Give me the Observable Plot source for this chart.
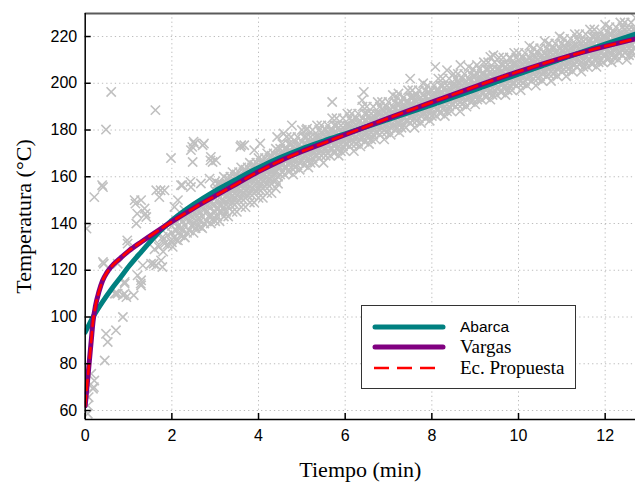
<!DOCTYPE html>
<html><head><meta charset="utf-8">
<script src="https://cdn.jsdelivr.net/npm/d3@7"></script>
<script src="https://cdn.jsdelivr.net/npm/@observablehq/plot@0.6"></script>
<style>
body{margin:0;background:#fff;}
#wrap{position:relative;width:635px;height:484px;overflow:hidden;}
#wrap svg g[aria-label="x-axis label"] text,#wrap svg g[aria-label="y-axis label"] text{font-family:"Liberation Serif","Times New Roman",serif;font-size:22px;fill:#000;}
#legend{position:absolute;left:361px;top:305px;width:213px;height:82px;border:1.5px solid #333;background:#fff;}
#legend .row{position:absolute;left:0;width:100%;height:20px;}
#legend .sw{position:absolute;left:10px;top:0;}
#legend .lab{position:absolute;left:98px;white-space:nowrap;color:#000;line-height:20px;top:0;}
</style></head><body>
<div id="wrap"></div>
<script>
// ---- axes ----
const xTicks = [0, 2, 4, 6, 8, 10, 12];
const yTicks = [60, 80, 100, 120, 140, 160, 180, 200, 220];
const xDomain = [0, 12.7];
const yDomain = [56.15, 229.85];

// ---- model curves ----
const abarcaT = [0, 0.1, 0.2, 0.4, 0.6, 0.8, 1.0, 1.3, 1.7, 2, 2.5, 3, 3.5, 4, 4.5, 5, 5.5, 6, 7, 8, 9, 10, 11, 12, 12.7];
const abarcaV = [93.5, 97.2, 100.6, 106.5, 111.8, 116.6, 121.5, 128, 136.3, 141.3, 148.2, 154, 159, 163.9, 168.2, 172, 175.3, 178.4, 184.5, 190.8, 197.3, 203.9, 210.4, 216.7, 221];
const vargasT = [0, 0.03, 0.06, 0.1, 0.14, 0.18, 0.24, 0.32, 0.4, 0.5, 0.6, 0.8, 1, 1.3, 1.7, 2, 2.5, 3, 3.5, 4, 4.5, 5, 5.5, 6, 7, 8, 9, 10, 11, 12, 12.7];
const vargasV = [62, 68, 74, 82, 90, 98, 105, 111, 115.5, 119, 121.5, 125, 128.2, 132.2, 137.2, 140.8, 146.5, 151.8, 157, 162.2, 166.8, 170.8, 174.4, 178, 185.1, 191.9, 198.6, 205, 210.8, 215.8, 219];
const propuestaT = [0, 0.03, 0.06, 0.1, 0.14, 0.18, 0.24, 0.32, 0.4, 0.5, 0.6, 0.8, 1, 1.3, 1.7, 2, 2.5, 3, 3.5, 4, 4.5, 5, 5.5, 6, 7, 8, 9, 10, 11, 12, 12.7];
const propuestaV = [62, 68, 74, 82, 90, 98, 105, 111, 115.5, 119, 121.5, 125, 128.2, 132.2, 137.2, 140.8, 146.5, 151.8, 157, 162.2, 166.8, 170.8, 174.4, 178, 185.1, 191.9, 198.6, 205, 210.8, 215.8, 219];

// ---- measurements: isolated points [t, T] ----
const sparsePts = [[0.6,196.3],[0.48,180.2],[1.62,188.5],[1.98,168],[2.47,172.8],[2.52,174.2],[2.44,171.4],[2.71,173.5],[2.9,168.5],[2.94,166.3],[3.6,173.5],[0.03,137.8],[0.21,151.3],[0.41,155.6],[1.14,150],[1.29,150],[1.37,146.4],[1.18,140],[1.41,142.8],[1.64,154.2],[1.83,154.2],[1.71,151.3],[2.21,156.4],[2.44,155.6],[2.67,157.1],[2.87,159.2],[3.06,157.1],[2.06,147.1],[2.14,150],[2.29,145.7],[2.48,166.3],[3.02,167],[3.67,173.5],[3.9,171.4],[0.41,123.5],[0.75,122.8],[0.98,131.4],[1.33,122.1],[1.52,122.8],[1.64,122.1],[1.75,124.2],[1.29,115.7],[1.21,117.8],[0.91,115],[0.75,110],[0.91,110],[0.68,110],[1.83,131.4],[2.02,130],[2.14,132.8],[2.29,134.2],[1.79,134.2],[2.67,138.5],[2.52,142.1],[0.91,114.3],[1.29,113.5],[0.71,110],[0.87,109.3],[0.95,108.5],[0.87,100],[0.71,94.3],[0.48,92.8],[0.52,89.3],[0.45,81.4],[0.21,72.8],[0.18,69.3],[0.14,75.7],[0.06,58.6],[0.06,62.1],[0.43,122.8],[0.2,70],[0.08,65.7],[1.12,109.3],[1.28,114.3],[1.58,122.8],[1.78,121.4],[0.97,132.8],[0.39,156.4],[1.16,148.5],[1.39,144.2],[1.2,144.2],[1.74,154.2],[2.24,156.4],[2.43,157.8],[2.5,175],[2.74,174.2],[2.89,167],[3.58,172.8],[4.04,174.2],[4.43,177],[4.58,178.5],[4.77,182],[5.12,180.6],[5.7,192],[6.43,196.3],[6.39,192.8],[7.23,195.6],[7.58,194.2],[7.5,202],[8.08,207],[8.35,205.6],[8.66,207.8],[8.62,200],[9.04,207.8],[9.35,211.3],[9.42,212],[9.81,210.6],[10.65,212],[12.35,219.2]];

// ---- measurements: dense band, rows of [t, T, T, ...] ----
const bandRows = [
[1.6,129,133],[1.7,130],[1.8,128,133],[1.9,131,135],
[2.0,132,136,139],[2.1,133,137,141],[2.2,135,138,142],[2.3,134,139,143],[2.4,137,141,144],[2.5,136,140,145],[2.6,139,142,146],[2.7,138,143,147],[2.8,141,145,148],[2.9,140,144,149],
[2.05,134,140],[2.15,136,139],[2.25,137,141],[2.35,136,142],[2.45,139,143],[2.55,138,144],[2.65,141,145],[2.75,140,146],[2.85,143,147],[2.95,142,148],
[3.00,141,145,148,151,154,158],[3.05,143,146,150,152,155],[3.10,141,145,148,151,154,157],[3.15,145,148,150,154,157],
[3.20,143,147,150,153,156,160],[3.25,145,148,152,154,157],[3.30,143,147,150,153,156,159],[3.35,148,151,153,157,160],
[3.40,145,149,152,155,158,162],[3.45,148,151,155,157,160],[3.50,145,149,152,155,158,161],[3.55,150,153,155,159,162],
[3.60,147,151,154,157,160,164],[3.65,150,153,157,159,162],[3.70,147,151,154,157,160,163],[3.75,152,155,157,161,164],
[3.80,149,153,156,159,162,166],[3.85,152,155,159,161,164],[3.90,149,153,156,159,162,165],[3.95,154,157,159,163,166],
[4.00,151,155,158,161,164,168],[4.05,154,157,161,163,166],[4.10,151,155,158,161,164,167],[4.15,156,159,161,165,168],
[4.20,153,157,160,163,166,170],[4.25,156,159,163,165,168],[4.30,153,157,160,163,166,169],[4.35,158,161,163,167,170],
[4.40,155,159,162,165,168,172],[4.45,157,160,164,166,169],
[4.50,161,164,167,169,172],[4.55,162,165,168,170,174],[4.60,161,164,167,170,172],[4.65,164,167,169,172,177],[4.70,162,166,168,171,174],
[4.75,164,166,171,174,177],[4.80,161,165,168,170,173],[4.85,164,167,170,172,175],[4.90,165,168,171,173,177],[4.95,163,166,169,172,174],
[5.00,167,170,172,175,180],[5.05,165,169,171,174,177],[5.10,167,169,174,177,180],[5.15,164,168,171,173,176],[5.20,166,169,172,174,177],
[5.25,168,171,174,176,180],[5.30,166,169,172,175,177],[5.35,169,172,174,177,182],[5.40,168,172,174,177,180],[5.45,169,171,176,179,182],
[5.50,166,170,173,175,178],[5.55,169,172,175,177,180],[5.60,170,173,176,178,182],[5.65,169,172,175,178,180],[5.70,172,175,177,180,185],
[5.75,170,174,176,179,182],[5.80,172,174,179,182,185],[5.85,169,173,176,178,181],[5.90,171,174,177,179,182],[5.95,173,176,179,181,185],
[6.00,171,174,177,180,182],[6.05,174,177,179,182,187],[6.10,173,177,179,182,185],[6.15,174,176,181,184,187],[6.20,171,175,178,180,183],
[6.25,174,177,180,182,185],[6.30,175,178,181,183,187],[6.35,173,176,179,182,184],[6.40,177,180,182,185,190],[6.45,175,179,181,184,187],
[6.50,177,179,184,187,190],[6.55,174,178,181,183,186],[6.60,176,179,182,184,187],[6.65,178,181,184,186,190],[6.70,176,179,182,185,187],
[6.75,179,182,184,187,192],[6.80,178,182,184,187,190],[6.85,179,181,186,189,192],[6.90,176,180,183,185,188],[6.95,179,182,185,187,190],
[7.00,180,183,186,188,192],[7.05,178,181,184,187,189],[7.10,182,185,187,190,195],[7.15,180,184,186,189,192],[7.20,181,183,188,191,194],
[7.25,179,183,186,188,191],[7.30,181,184,187,189,192],[7.35,182,185,188,190,194],[7.40,181,184,187,190,192],[7.45,184,187,189,192,197],
[7.50,183,186,188,191,194],[7.55,184,186,191,194,197],[7.60,181,185,188,190,193],[7.65,184,187,190,192,195],[7.70,185,188,191,193,197],
[7.75,183,186,189,192,194],[7.80,187,190,192,195,200],[7.85,185,189,191,194,197],[7.90,186,188,193,196,199],[7.95,184,188,191,193,196],
[8.00,186,189,192,194,197],[8.05,187,190,193,195,199],[8.10,186,189,192,195,197],[8.15,189,192,194,197,202],[8.20,187,191,193,196,199],
[8.25,189,191,196,199,202],[8.30,186,190,193,195,198],[8.35,188,191,194,196,199],[8.40,190,193,196,198,202],[8.45,188,191,194,197,199],
[8.50,191,194,196,199,204],[8.55,190,194,196,199,202],[8.60,191,193,198,201,204],[8.65,188,192,195,197,200],[8.70,191,194,197,199,202],
[8.75,192,195,198,200,204],[8.80,190,193,196,199,201],[8.85,194,197,199,202,207],[8.90,192,196,198,201,204],[8.95,193,195,200,203,206],
[9.00,191,195,198,200,203],[9.05,193,196,199,201,204],[9.10,194,197,200,202,206],[9.15,193,196,199,202,204],[9.20,196,199,201,204,209],
[9.25,194,198,200,203,206],[9.30,196,198,203,206,209],[9.35,193,197,200,202,205],[9.40,195,198,201,203,206],[9.45,197,200,203,205,209],
[9.50,195,198,201,204,206],[9.55,198,201,203,206,211],[9.60,196,200,202,205,208],[9.65,198,200,205,208,211],[9.70,195,199,202,204,207],
[9.75,197,200,203,205,208],[9.80,199,202,205,207,211],[9.85,197,200,203,206,208],[9.90,200,203,205,208,213],[9.95,199,203,205,208,211],
[10.00,200,202,207,210,213],[10.05,197,201,204,206,209],[10.10,200,203,206,208,211],[10.15,201,204,207,209,213],[10.20,199,202,205,208,210],
[10.25,203,206,208,211,216],[10.30,201,205,207,210,213],[10.35,202,204,209,212,215],[10.40,199,203,206,208,211],[10.45,202,205,208,210,213],
[10.50,203,206,209,211,215],[10.55,201,204,207,210,212],[10.60,205,208,210,213,218],[10.65,203,207,209,212,215],[10.70,204,206,211,214,217],
[10.75,201,205,208,210,213],[10.80,204,207,210,212,215],[10.85,205,208,211,213,217],[10.90,203,206,209,212,214],[10.95,207,210,212,215,220],
[11.00,205,209,211,214,217],[11.05,206,208,213,216,219],[11.10,203,207,210,212,215],[11.15,206,209,212,214,217],[11.20,207,210,213,215,219],
[11.25,205,208,211,214,216],[11.30,208,211,213,216,221],[11.35,207,211,213,216,219],[11.40,208,210,215,218,221],[11.45,205,209,212,214,217],
[11.50,207,210,213,215,218],[11.55,209,212,215,217,221],[11.60,207,210,213,216,218],[11.65,210,213,215,218,223],[11.70,208,212,214,217,220],
[11.75,210,212,217,220,223],[11.80,207,211,214,216,219],[11.85,209,212,215,217,220],[11.90,210,213,216,218,222],[11.95,209,212,215,218,220],
[12.00,212,215,217,220,225],[12.05,210,214,216,219,222],[12.10,211,213,218,221,224],[12.15,209,213,216,218,221],[12.20,211,214,217,219,222],
[12.25,212,215,218,220,224],[12.30,210,213,216,219,221],[12.35,213,216,218,221,226],[12.40,212,216,218,221,224],[12.45,213,215,220,223,226],
[12.50,210,214,217,219,222],[12.55,212,215,218,220,223],[12.60,214,217,220,222,226],[12.65,212,215,218,221,223],[12.70,215,218,220,223,228]
];

const seriesNames = ["Abarca", "Vargas", "Ec. Propuesta"];
const seriesColors = ["#008080", "#800080", "#ff0000"];

// ---- tables ----
const points = sparsePts.map(([t, y]) => ({t, y}))
  .concat(bandRows.flatMap(([t, ...ys]) => ys.map(y => ({t, y}))));
const abarca = abarcaT.map((t, i) => ({t, y: abarcaV[i]}));
const vargas = vargasT.map((t, i) => ({t, y: vargasV[i]}));
const propuesta = propuestaT.map((t, i) => ({t, y: propuestaV[i]}));

const W = 635, H = 484, mL = 84.7, mT = 13, mB = 65, mR = 0;
const plotW = W - mL - mR, plotH = H - mT - mB;
const grid = {stroke: "#bdbdbd", strokeOpacity: 1, strokeWidth: 1, strokeDasharray: "1.3,3"};

const chart = Plot.plot({
  width: W, height: H,
  marginLeft: mL, marginTop: mT, marginBottom: mB, marginRight: mR,
  x: {domain: xDomain},
  y: {domain: yDomain},
  style: {fontFamily: "'Liberation Sans', Arial, sans-serif", fontSize: "16px", color: "#000", background: "#fff", overflow: "visible"},
  marks: [
    Plot.gridX(xTicks.slice(1), grid),
    Plot.gridY(yTicks, grid),
    Plot.dot(points, {x: "t", y: "y", symbol: "times", r: 4.3, stroke: "#c0c0c0", strokeWidth: 1.6, clip: true}),
    Plot.line(abarca, {x: "t", y: "y", stroke: seriesColors[0], strokeWidth: 5, curve: "monotone-x", clip: true}),
    Plot.line(vargas, {x: "t", y: "y", stroke: seriesColors[1], strokeWidth: 5, curve: "monotone-x", clip: true}),
    Plot.line(propuesta, {x: "t", y: "y", stroke: seriesColors[2], strokeWidth: 2.6, strokeDasharray: "10,6", curve: "monotone-x", clip: true}),
    Plot.ruleY([yDomain[1]], {stroke: "#5a5a5a", strokeWidth: 2}),
    Plot.ruleX([xDomain[0]], {stroke: "#000", strokeWidth: 1.5}),
    Plot.ruleY([yDomain[0]], {stroke: "#000", strokeWidth: 1.5}),
    Plot.tickX(xTicks, {x: d => d, insetTop: plotH - 6, stroke: "#000", strokeWidth: 1.5}),
    Plot.tickY(yTicks, {y: d => d, insetRight: plotW - 6, stroke: "#000", strokeWidth: 1.5}),
    Plot.axisX(xTicks, {tickSize: 0, tickPadding: 10, label: "Tiempo (min)", labelAnchor: "center", labelOffset: 57, labelArrow: "none"}),
    Plot.axisY(yTicks, {tickSize: 0, tickPadding: 8, label: "Temperatura (°C)", labelAnchor: "center", labelOffset: 70, labelArrow: "none"})
  ]
});
const wrap = document.getElementById("wrap");
wrap.appendChild(chart);

// ---- legend ----
const legend = document.createElement("div");
legend.id = "legend";
const rowTops = [11, 31, 52];
const fonts = ["15.5px 'Liberation Sans', Arial, sans-serif", "19px 'Liberation Serif', 'Times New Roman', serif", "19px 'Liberation Serif', 'Times New Roman', serif"];
seriesNames.forEach((name, i) => {
  const row = document.createElement("div");
  row.className = "row";
  row.style.top = rowTops[i] + "px";
  const line = i === 2
    ? `<line x1="2" y1="10" x2="65" y2="10" stroke="${seriesColors[i]}" stroke-width="2.6" stroke-dasharray="15,8"/>`
    : `<line x1="3" y1="10" x2="71" y2="10" stroke="${seriesColors[i]}" stroke-width="5" stroke-linecap="round"/>`;
  row.innerHTML = `<svg class="sw" width="76" height="20">${line}</svg><span class="lab" style="font:${fonts[i]};line-height:20px">${name}</span>`;
  legend.appendChild(row);
});
wrap.appendChild(legend);
</script>
</body></html>
